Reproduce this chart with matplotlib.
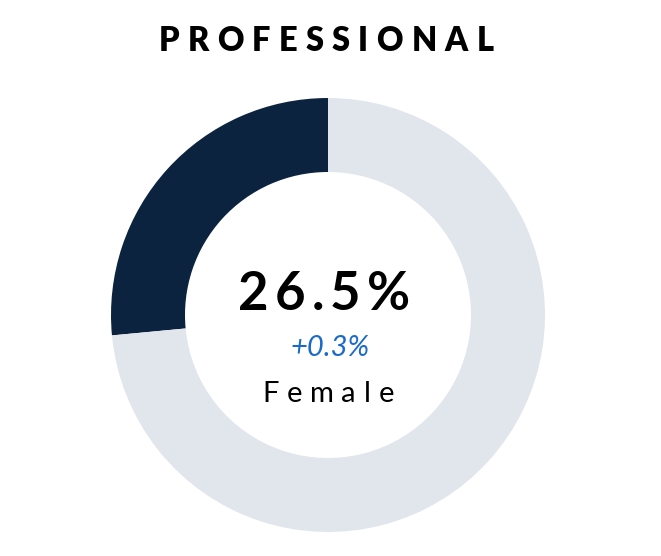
import matplotlib
matplotlib.use('Agg')
import matplotlib.pyplot as plt

title = 'PROFESSIONAL'
share_label = '26.5%'
change_label = '+0.3%'
group_label = 'Female'
shares = [26.5, 73.5]
colors = ['#0c2340', '#e1e6ed']

W, H = 661, 556
fig = plt.figure(figsize=(W / 100, H / 100), dpi=100)
plt.rcParams['font.family'] = ['Lato', 'DejaVu Sans']

# donut
cx, cy, r = 328, 315, 217
ax = fig.add_axes([(cx - r) / W, (H - cy - r) / H, 2 * r / W, 2 * r / H])
ax.pie(shares, colors=colors, startangle=90, counterclock=True, radius=1,
       wedgeprops=dict(width=74 / 217, linewidth=0))
ax.set_xlim(-1, 1)
ax.set_ylim(-1, 1)
ax.set_aspect('equal')
ax.axis('off')

renderer = fig.canvas.get_renderer()


def spaced_text(s, x_center, baseline, width, **kw):
    # draw letters one by one so the word spans the given pixel width
    widths = []
    for ch in s:
        t = fig.text(0, 0, ch, **kw)
        widths.append(t.get_window_extent(renderer).width)
        t.remove()
    gap = (width - sum(widths)) / max(len(s) - 1, 1)
    x = x_center - width / 2
    for ch, w in zip(s, widths):
        fig.text(x / W, (H - baseline) / H, ch, ha='left', va='baseline', **kw)
        x += w + gap


spaced_text(title, 326, 51, 335, fontsize=23.5, fontweight='heavy', color='black')
spaced_text(share_label, 324, 310, 172, fontsize=38, fontweight='bold', color='black')
fig.text(330 / W, (H - 356) / H, change_label, ha='center', va='baseline',
         fontsize=21, fontstyle='italic', color='#1b6ac9')
spaced_text(group_label, 328, 402, 132, fontsize=21, color='black')

fig.savefig('out.png', dpi=100)
